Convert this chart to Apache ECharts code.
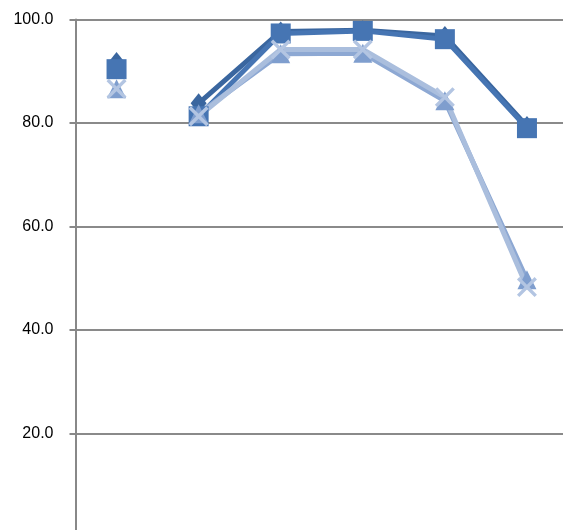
<!DOCTYPE html>
<html><head><meta charset="utf-8">
<script src="https://cdn.jsdelivr.net/npm/echarts@6/dist/echarts.min.js"></script>
<style>html,body{margin:0;padding:0;background:#fff;overflow:hidden;width:563px;height:530px}#c{width:568px;height:537px}</style>
</head><body><div id="c"></div>
<script>
const categories = ['1', '2', '3', '4', '5', '6'];
const seriesDiamond = [91.8, 83.8, 97.7, 97.9, 96.8, 79.4];
const seriesSquare = [90.4, 81.3, 97.3, 97.8, 96.2, 79.0];
const seriesTriangle = [86.6, 81.8, 93.4, 93.5, 84.3, 49.7];
const seriesCross = [86.6, 81.3, 94.2, 94.2, 85.0, 48.3];
const yTicks = [0, 20, 40, 60, 80, 100];

const crossPath = 'path://M0,1.2 L1.2,0 L5,3.8 L8.8,0 L10,1.2 L6.2,5 L10,8.8 L8.8,10 L5,6.2 L1.2,10 L0,8.8 L3.8,5 Z';

const defs = [
  {name: 'S1', data: seriesDiamond, color: '#3A669F', lineColor: '#3A669F', symbol: 'diamond', size: [16, 20]},
  {name: 'S2', data: seriesSquare, color: '#4675B3', lineColor: '#4675B3', symbol: 'rect', size: 20},
  {name: 'S3', data: seriesTriangle, color: '#7F9ECE', lineColor: '#8DA8D3', symbol: 'triangle', size: 19},
  {name: 'S4', data: seriesCross, color: '#B3C5E2', lineColor: '#AABEDD', symbol: crossPath, size: 20}
];

const series = [];
defs.forEach(d => {
  series.push({
    name: d.name, type: 'line', data: d.data.map((v, i) => i === 0 ? '-' : v),
    symbol: d.symbol, symbolSize: d.size, showAllSymbol: true,
    itemStyle: {color: d.color}, lineStyle: {color: d.lineColor, width: 5},
    animation: false, silent: true
  });
  series.push({
    name: d.name, type: 'line', data: d.data.map((v, i) => i === 0 ? v : '-'),
    symbol: d.symbol, symbolSize: d.size, showAllSymbol: true,
    itemStyle: {color: d.color}, lineStyle: {width: 0},
    animation: false, silent: true
  });
});

const chart = echarts.init(document.getElementById('c'));
chart.setOption({
  animation: false,
  grid: {left: 75.5, right: 0, top: 19.5, bottom: 0, containLabel: false},
  xAxis: {
    type: 'category', data: categories, boundaryGap: true,
    axisLine: {show: false}, axisTick: {show: false}, axisLabel: {show: false},
    splitLine: {show: false}
  },
  yAxis: {
    type: 'value', min: yTicks[0], max: yTicks[yTicks.length - 1], interval: 20,
    axisLine: {show: true, lineStyle: {color: '#888888', width: 2}},
    axisTick: {show: true, inside: false, length: 6, lineStyle: {color: '#888888', width: 2}},
    axisLabel: {margin: 22, color: '#000', fontFamily: 'Liberation Sans', fontSize: 16,
      showMinLabel: false, formatter: v => v.toFixed(1)},
    splitLine: {show: true, lineStyle: {color: '#8a8a8a', width: 2}}
  },
  series: series
});
</script></body></html>
